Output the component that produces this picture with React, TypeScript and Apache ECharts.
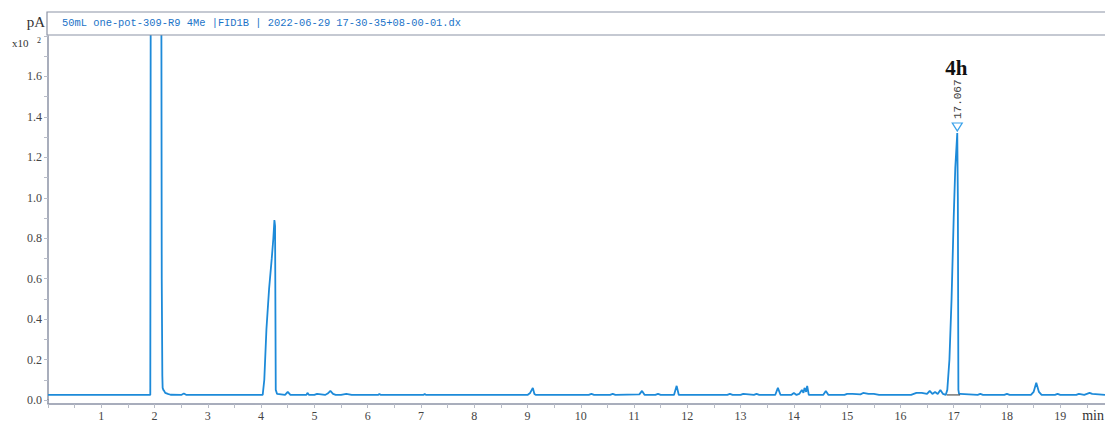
import React, { useEffect, useRef } from "react";
import * as echarts from "echarts";

// Chromatogram trace: retention time (min) and signal (pA x10^2)
const times: number[] = [
  0, 1.92, 1.93, 1.94, 2.125, 2.135, 2.14, 2.146, 2.152, 2.165, 2.18, 2.2, 2.25, 2.3, 2.5, 2.55, 2.6,
  4.03, 4.06, 4.1, 4.15, 4.2, 4.23, 4.25, 4.262, 4.275, 4.3, 4.45, 4.5, 4.55, 4.85, 4.87, 4.9,
  5.0, 5.05, 5.2, 5.25, 5.3, 5.35, 5.4, 5.5, 5.6, 5.65, 5.7, 6.2, 6.22, 6.25, 7.05, 7.07, 7.1,
  9.0, 9.05, 9.1, 9.13, 9.16, 10.15, 10.2, 10.25, 10.55, 10.6, 10.65, 11.1, 11.15, 11.2,
  11.4, 11.45, 11.5, 11.75, 11.8, 11.84, 12.75, 12.8, 12.85, 13.0, 13.05, 13.25, 13.3, 13.35,
  13.65, 13.7, 13.75, 13.95, 14.0, 14.05, 14.1, 14.15, 14.18, 14.2, 14.23, 14.25, 14.28, 14.55, 14.6, 14.65,
  14.95, 15.0, 15.1, 15.25, 15.3, 15.4, 15.5, 15.6, 16.2, 16.3, 16.4, 16.5, 16.55, 16.6, 16.65,
  16.7, 16.75, 16.8, 16.85, 16.88, 16.92, 16.96, 17.0, 17.03, 17.067, 17.078, 17.088, 17.1,
  17.12, 17.45, 17.5, 17.55, 17.95, 18.0, 18.05, 18.45, 18.5, 18.55, 18.6, 18.65, 18.9, 18.95,
  19.0, 19.3, 19.35, 19.45, 19.55, 19.6, 19.84,
];
const signal: number[] = [
  0.025, 0.025, 2.5, 2.5, 2.5, 0.6, 0.38, 0.12, 0.06, 0.05, 0.045, 0.035, 0.03, 0.026, 0.025, 0.032, 0.025,
  0.025, 0.1, 0.35, 0.55, 0.7, 0.8, 0.89, 0.86, 0.05, 0.03, 0.025, 0.04, 0.025, 0.025, 0.035, 0.025,
  0.025, 0.03, 0.025, 0.032, 0.045, 0.03, 0.025, 0.025, 0.03, 0.028, 0.025, 0.025, 0.03, 0.025, 0.025, 0.03, 0.025,
  0.025, 0.035, 0.06, 0.03, 0.025, 0.025, 0.03, 0.025, 0.025, 0.03, 0.025, 0.028, 0.045, 0.025,
  0.025, 0.03, 0.025, 0.025, 0.07, 0.025, 0.025, 0.03, 0.025, 0.025, 0.03, 0.025, 0.03, 0.025,
  0.025, 0.06, 0.025, 0.025, 0.035, 0.025, 0.03, 0.05, 0.035, 0.06, 0.04, 0.07, 0.025, 0.025, 0.045, 0.025,
  0.025, 0.03, 0.03, 0.028, 0.035, 0.03, 0.03, 0.025, 0.025, 0.035, 0.035, 0.03, 0.045, 0.03, 0.04,
  0.03, 0.05, 0.03, 0.025, 0.05, 0.2, 0.5, 0.9, 1.15, 1.32, 1.0, 0.05, 0.03,
  0.03, 0.025, 0.03, 0.025, 0.025, 0.03, 0.025, 0.025, 0.04, 0.085, 0.04, 0.025, 0.025, 0.03,
  0.025, 0.025, 0.03, 0.025, 0.035, 0.03, 0.025,
];

// Integration baseline under the labelled peak
const baseTimes: number[] = [16.87, 17.12];
const baseValues: number[] = [0.025, 0.025];

const peakTime = 17.067;
const peakValue = 1.32;
const peakName = "4h";
const peakLabel = "17.067";

const headerText = "50mL one-pot-309-R9 4Me |FID1B | 2022-06-29 17-30-35+08-00-01.dx";

const X_MIN = 0;
const X_MAX = 19.84;
const Y_MIN = 0;
const Y_MAX = 1.8;

export default function App() {
  const ref = useRef<HTMLDivElement>(null);
  useEffect(() => {
    if (!ref.current) return;
    const chart = echarts.init(ref.current, undefined, { renderer: "svg" });
    const axisColor = "#8c93a6";
    const labelFont = "'Liberation Serif', 'DejaVu Serif', serif";
    const option: any = {
      animation: false,
      backgroundColor: "#ffffff",
      grid: { left: 48, right: 0, top: 36, bottom: 23, containLabel: false },
      xAxis: {
        type: "value",
        min: X_MIN,
        max: X_MAX,
        interval: 1,
        offset: 4,
        axisLine: { show: true, onZero: false, lineStyle: { color: axisColor, width: 1.5 } },
        axisTick: { show: true, length: 4, lineStyle: { color: "#b8bcc8" } },
        minorTick: { show: true, splitNumber: 2, length: 4, lineStyle: { color: "#b8bcc8" } },
        splitLine: { show: false },
        axisLabel: {
          color: "#444",
          fontFamily: labelFont,
          fontSize: 12,
          margin: 6,
          showMaxLabel: false,
          formatter: (v: number) => (v === 0 ? "" : String(v)),
        },
      },
      yAxis: {
        type: "value",
        min: Y_MIN,
        max: Y_MAX,
        interval: 0.2,
        axisLine: { show: true, lineStyle: { color: axisColor, width: 1.5 } },
        axisTick: { show: true, length: 4, lineStyle: { color: "#b8bcc8" } },
        minorTick: { show: true, splitNumber: 2, length: 4, lineStyle: { color: "#b8bcc8" } },
        splitLine: { show: false },
        axisLabel: {
          color: "#444",
          fontFamily: labelFont,
          fontSize: 12,
          margin: 6,
          showMaxLabel: false,
          formatter: (v: number) => v.toFixed(1),
        },
      },
      series: [
        {
          type: "line",
          data: times.map((t, i) => [t, signal[i]]),
          showSymbol: false,
          symbol: "none",
          clip: true,
          lineStyle: { color: "#1d8ad9", width: 1.8 },
          markPoint: {
            symbol: "triangle",
            symbolRotate: 180,
            symbolSize: [10, 8],
            symbolOffset: [0, -6],
            itemStyle: { color: "#ffffff", borderColor: "#3ba2ea", borderWidth: 1.2 },
            label: { show: false },
            data: [{ coord: [peakTime, peakValue] }],
          },
        },
        {
          type: "line",
          data: baseTimes.map((t, i) => [t, baseValues[i]]),
          showSymbol: false,
          symbol: "none",
          lineStyle: { color: "#333333", width: 1 },
        },
      ],
    };
    chart.setOption(option);

    const p = chart.convertToPixel({ seriesIndex: 0 }, [peakTime, peakValue]) as number[];
    chart.setOption({
      graphic: [
        {
          type: "rect",
          shape: { x: 47, y: 12, width: 1080, height: 23 },
          style: { fill: "#ffffff", stroke: axisColor, lineWidth: 1.2 },
          z: 10,
        },
        {
          type: "text",
          x: 62,
          y: 23,
          style: {
            text: headerText,
            fill: "#1b73c8",
            font: "10.4px 'Liberation Mono', 'DejaVu Sans Mono', monospace",
            verticalAlign: "middle",
          },
          z: 11,
        },
        {
          type: "text",
          x: 45,
          y: 22,
          style: {
            text: "pA",
            fill: "#333",
            font: "15px 'Liberation Serif', serif",
            align: "right",
            verticalAlign: "middle",
          },
        },
        {
          type: "text",
          x: 12,
          y: 43,
          style: {
            text: "x10",
            fill: "#333",
            font: "11px 'Liberation Serif', serif",
            verticalAlign: "middle",
          },
        },
        {
          type: "text",
          x: 37,
          y: 40,
          style: {
            text: "2",
            fill: "#333",
            font: "8px 'Liberation Serif', serif",
            verticalAlign: "middle",
          },
        },
        {
          type: "line",
          shape: { x1: 48, y1: 399, x2: 48, y2: 404 },
          style: { stroke: axisColor, lineWidth: 1.5 },
        },
        {
          type: "text",
          x: 1104,
          y: 415,
          style: {
            text: "min",
            fill: "#333",
            font: "14px 'Liberation Serif', serif",
            align: "right",
            verticalAlign: "middle",
          },
        },
        {
          type: "text",
          x: p[0] + 0.5,
          y: p[1] - 14,
          rotation: Math.PI / 2,
          style: {
            text: peakLabel,
            fill: "#444",
            font: "11px 'Liberation Mono', monospace",
            align: "left",
            verticalAlign: "middle",
          },
        },
        {
          type: "text",
          x: p[0] - 1,
          y: p[1] - 65,
          style: {
            text: peakName,
            fill: "#111",
            font: "bold 21px 'Liberation Serif', serif",
            align: "center",
            verticalAlign: "middle",
          },
        },
      ],
    });
    return () => chart.dispose();
  }, []);
  return (
    <div
      ref={ref}
      style={{ position: "fixed", left: 0, top: 0, width: 1105, height: 423, background: "#fff" }}
    />
  );
}
